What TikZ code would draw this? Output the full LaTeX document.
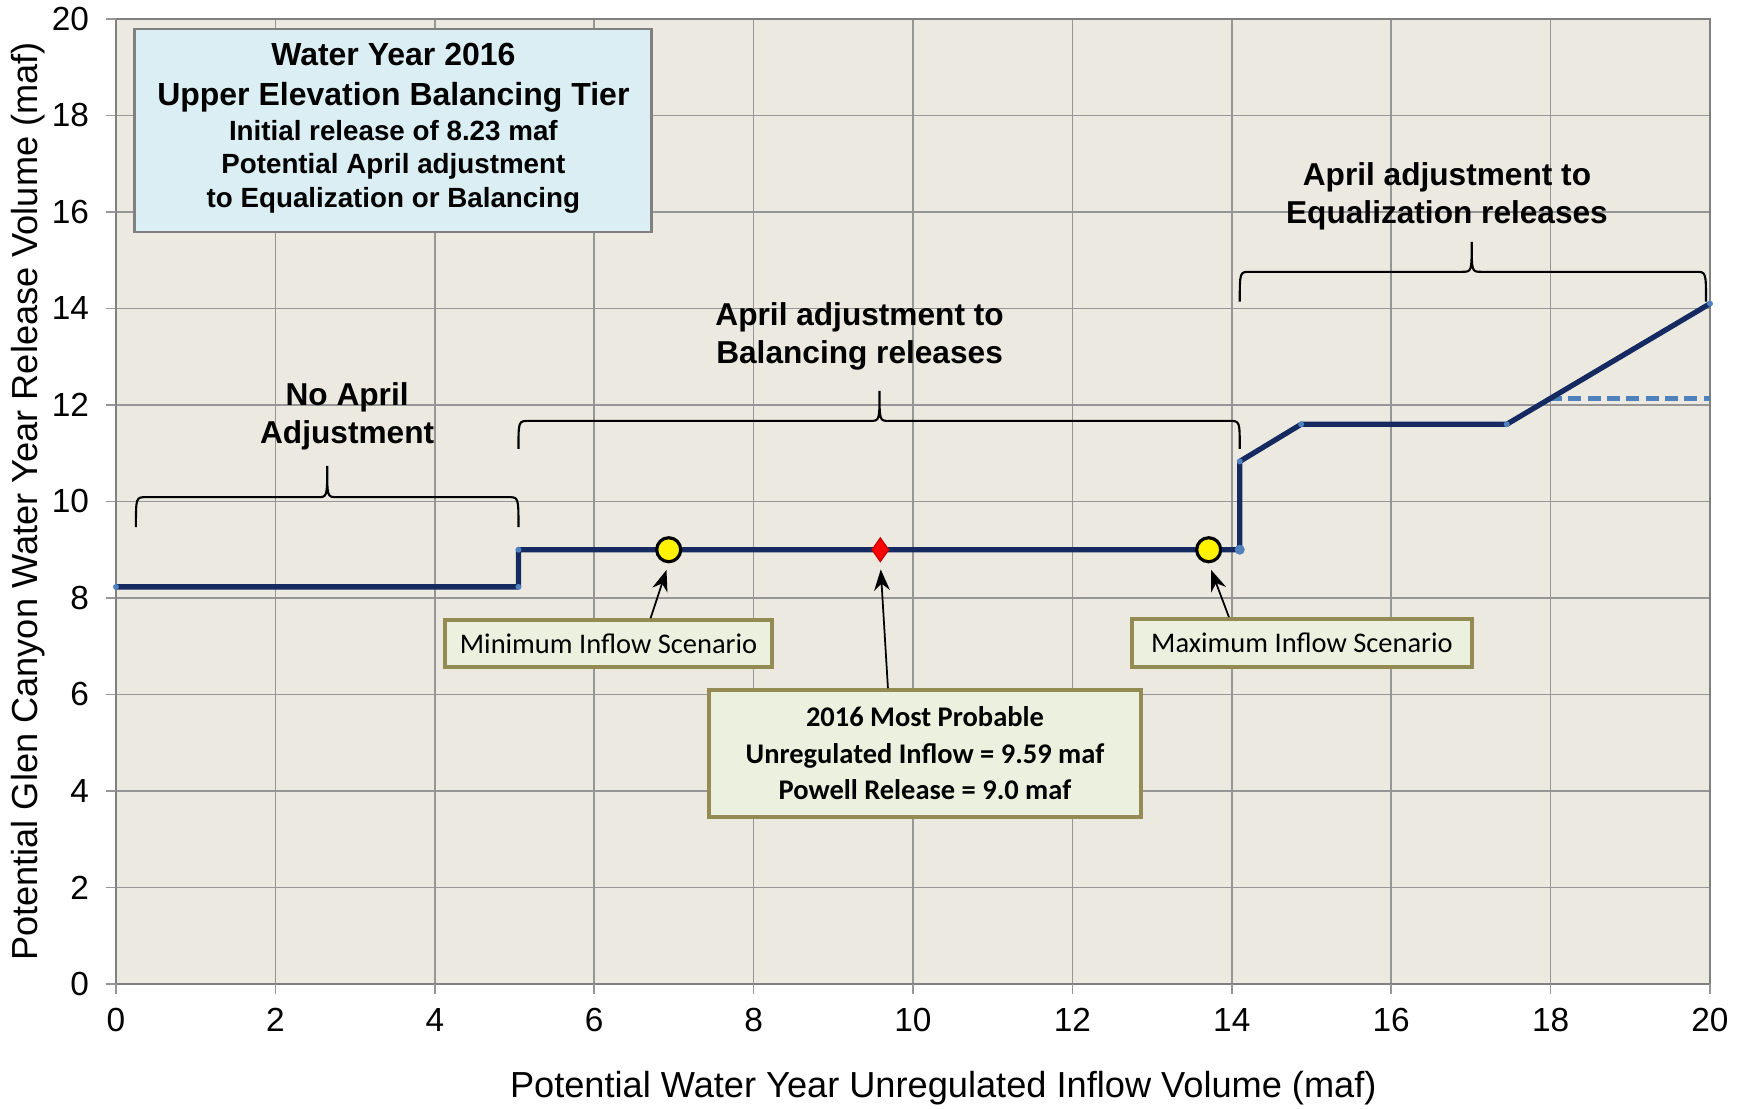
\documentclass[tikz,border=0pt]{standalone}
\usepackage{fontspec}
\setmainfont{Liberation Sans}
\newfontfamily\callfont{Carlito}
\usetikzlibrary{
    arrows.meta,
    positioning,
    shapes.geometric,
}
\definecolor{plotbg}{RGB}{236,233,225}
\definecolor{gridgray}{RGB}{150,150,150}
\definecolor{navy}{RGB}{22,42,98}
\definecolor{ptblue}{RGB}{79,129,189}
\definecolor{infofill}{RGB}{219,238,243}
\definecolor{infoedge}{RGB}{128,128,128}
\definecolor{calloutfill}{RGB}{235,241,222}
\definecolor{calloutedge}{RGB}{148,138,84}

\begin{document}
\begin{tikzpicture}[
    x=0.797cm, y=0.4825cm,
    ticklabel/.style={font=\fontsize{9.5}{11}\selectfont, inner sep=0pt},
    axistitle/.style={font=\fontsize{10.3}{12}\selectfont, inner sep=0pt},
    bracelabel/.style={font=\fontsize{9}{10.8}\selectfont\bfseries,
    align=center, inner sep=0pt},
    callout/.style={draw=calloutedge, fill=calloutfill, line width=1pt,
    font=\callfont\fontsize{8.1}{10.4}\selectfont, align=center, inner sep=0pt},
    scenario/.style={circle, draw=black, fill=yellow, line width=0.9pt,
    minimum size=0.24cm, inner sep=0pt},
    pointer/.style={-{Stealth[length=6pt, width=4.5pt]}, line width=0.5pt,
    shorten >=2pt},
    bracket/.style={line width=0.6pt},
]

\useasboundingbox (-1.4555,-2.5907) rectangle (20.364,20.394);

% PLOT AREA
\fill[plotbg] (0,0) rectangle (20,20);
\draw[gridgray, line width=0.5pt, xstep=2, ystep=2] (0,0) grid (20,20);
\draw[infoedge, line width=0.8pt] (0,0) rectangle (20,20);

% TICKS
\foreach \x in {0,2,...,20}{
    \draw[gridgray, line width=0.5pt] (\x,-0.2) -- (\x,0);
    \node[ticklabel] (xt\x) at (\x,-0.75) {\x};
}
\foreach \y in {0,2,...,20}{
    \draw[gridgray, line width=0.5pt] (-0.13,\y) -- (0,\y);
    \node[ticklabel, anchor=east] (yt\y) at (-0.33,\y) {\y};
}

% AXIS TITLES
\node[axistitle] (xtitle) at (10.38,-2.155)
    {Potential Water Year Unregulated Inflow Volume (maf)};
\node[axistitle, rotate=90] (ytitle) at (-1.108,10)
    {Potential Glen Canyon Water Year Release Volume (maf)};

% RELEASE LINE
\draw[ptblue, line width=1.5pt, dash pattern=on 3.7pt off 1.8pt] (17.98,12.14) -- (20,12.14);
\draw[navy, line width=1.5pt, line join=round] (0,8.23) -- (5.05,8.23) -- (5.05,9.0)
    -- (14.1,9.0) -- (14.1,10.83) -- (14.87,11.6) -- (17.45,11.6) -- (20,14.1);
\fill[ptblue] (0,8.23) circle (0.03cm) (5.05,8.23) circle (0.03cm)
    (5.05,9.0) circle (0.03cm) (14.1,10.83) circle (0.03cm)
    (14.87,11.6) circle (0.03cm) (17.45,11.6) circle (0.03cm)
    (20,14.1) circle (0.03cm);
\fill[ptblue] (14.1,9.0) circle (0.05cm);

% SCENARIOS
\node[scenario] (minpt) at (6.935,9) {};
\node[scenario] (maxpt) at (13.71,9) {};
\node[diamond, fill=red, draw=red!80!black, line width=0.4pt, inner sep=0pt,
    minimum width=0.17cm, minimum height=0.24cm] (probpt) at (9.59,9) {};

% INFO BOX
\node[draw=infoedge, fill=infofill, line width=0.8pt, minimum width=5.17cm,
    minimum height=2.03cm, inner sep=0pt] at (3.48,17.69) (info) {};
\node[bracelabel, font=\fontsize{9.1}{11.3}\selectfont\bfseries] at (3.48,18.78)
    (infohead) {Water Year 2016\\Upper Elevation Balancing Tier};
\node[bracelabel, font=\fontsize{7.9}{9.6}\selectfont\bfseries] at (3.48,16.94)
    (infobody) {Initial release of 8.23 maf\\Potential April adjustment\\
    to Equalization or Balancing};

% BRACES
\draw[bracket] (0.25,9.47) .. controls (0.25,10.09) .. (0.38,10.09) -- (2.53,10.09)
    .. controls (2.65,10.09) .. (2.65,10.74) .. controls (2.65,10.09) .. (2.77,10.09)
    -- (4.92,10.09) .. controls (5.05,10.09) .. (5.05,9.47);
\draw[bracket] (5.05,11.09) .. controls (5.05,11.67) .. (5.18,11.67) -- (9.46,11.67)
    .. controls (9.58,11.67) .. (9.58,12.29) .. controls (9.58,11.67) .. (9.70,11.67)
    -- (13.97,11.67) .. controls (14.1,11.67) .. (14.1,11.09);
\draw[bracket] (14.1,14.14) .. controls (14.1,14.76) .. (14.23,14.76) -- (16.89,14.76)
    .. controls (17.01,14.76) .. (17.01,15.38) .. controls (17.01,14.76) .. (17.13,14.76)
    -- (19.82,14.76) .. controls (19.95,14.76) .. (19.95,14.14);

\node[bracelabel] at (2.90,11.77) (noadj) {No April\\Adjustment};
\node[bracelabel] at (9.33,13.43) (baladj) {April adjustment to\\Balancing releases};
\node[bracelabel] at (16.70,16.33) (eqadj) {April adjustment to\\Equalization releases};

% CALLOUTS
\node[callout, minimum width=3.27cm, minimum height=0.47cm] at (6.18,7.057)
    (minbox) {Minimum Inflow Scenario};
\node[callout, minimum width=3.40cm, minimum height=0.48cm] at (14.88,7.07)
    (maxbox) {Maximum Inflow Scenario};
\node[callout, minimum width=4.32cm, minimum height=1.27cm, font=\callfont\fontsize{8.1}{10.4}\selectfont\bfseries]
    at (10.15,4.777) (probbox)
    {2016 Most Probable\\Unregulated Inflow = 9.59 maf\\Powell Release = 9.0 maf};

\draw[pointer] ([xshift=0.42cm]minbox.north) -- (minpt.south);
\draw[pointer] ([xshift=-0.73cm]maxbox.north) -- (maxpt.south);
\draw[pointer] ([xshift=-0.37cm]probbox.north) -- (probpt.south);

\end{tikzpicture}
\end{document}
